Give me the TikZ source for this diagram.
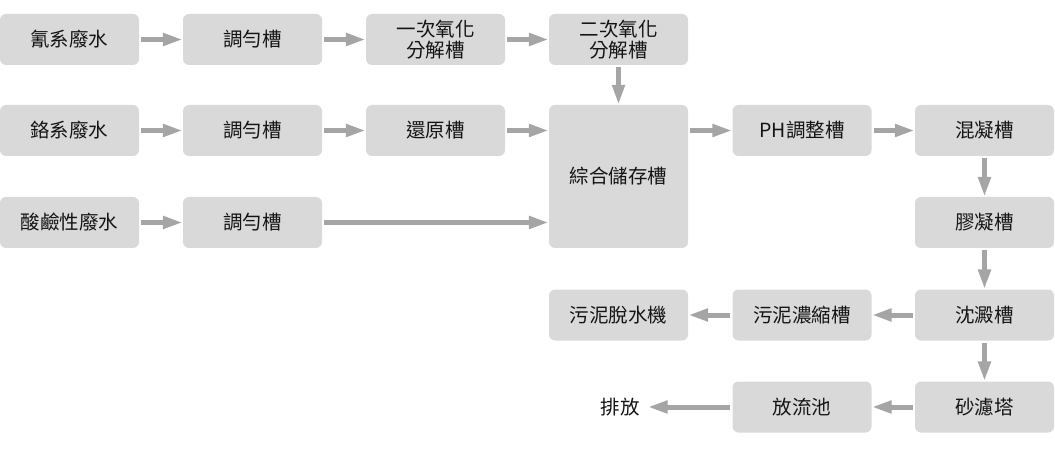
\documentclass[tikz,border=0pt]{standalone}
\usepackage{fontspec}
\setmainfont{Noto Sans CJK TC}
\usetikzlibrary{arrows.meta,calc}
\definecolor{boxfill}{RGB}{217,217,217}
\definecolor{arrowgray}{RGB}{165,165,165}
\definecolor{txt}{RGB}{20,20,20}
\begin{document}
\begin{tikzpicture}[x=1pt,y=-1pt,
  stepbox/.style={draw=none,fill=boxfill,rounded corners=6pt,minimum width=139pt,minimum height=51pt,
    inner sep=0pt,align=center,text=txt,font=\fontsize{19.5}{20.5}\selectfont},
  flow/.style={draw=arrowgray,line width=5pt,-{Triangle[length=20pt,width=12pt]},arrowgray,shorten <=2pt},
  lbl/.style={text=txt,font=\fontsize{19.5}{20.5}\selectfont,inner sep=0pt}]
\useasboundingbox (0,0) rectangle (1055,449);
% row 1
\node[stepbox] (cyan) at (69.5,39.5) {氰系廢水};
\node[stepbox] (eq1) at (252.5,39.5) {調勻槽};
\node[stepbox] (ox1) at (435.5,39.5) {一次氧化\\分解槽};
\node[stepbox] (ox2) at (618.5,39.5) {二次氧化\\分解槽};
% row 2
\node[stepbox] (chrom) at (69.5,130.5) {鉻系廢水};
\node[stepbox] (eq2) at (252.5,130.5) {調勻槽};
\node[stepbox] (red) at (435.5,130.5) {還原槽};
\node[stepbox,minimum height=143pt] (store) at (618.5,176.5) {綜合儲存槽};
\node[stepbox] (ph) at (802,130.5) {PH調整槽};
\node[stepbox] (mix) at (984.5,130.5) {混凝槽};
% row 3
\node[stepbox] (acid) at (69.5,222.5) {酸鹼性廢水};
\node[stepbox] (eq3) at (252.5,222.5) {調勻槽};
\node[stepbox] (floc) at (984.5,222.5) {膠凝槽};
% row 4
\node[stepbox] (dew) at (618.5,315) {污泥脫水機};
\node[stepbox] (thick) at (802,315) {污泥濃縮槽};
\node[stepbox] (settle) at (984.5,315) {沈澱槽};
% row 5
\node[lbl] (out) at (620,407) {排放};
\node[stepbox] (disc) at (802,407) {放流池};
\node[stepbox] (sand) at (984.5,407) {砂濾塔};
% connectors
\draw[flow] (cyan) -- (eq1);
\draw[flow] (eq1) -- (ox1);
\draw[flow] (ox1) -- (ox2);
\draw[flow] (ox2.south) -- (store.north);
\draw[flow] (chrom) -- (eq2);
\draw[flow] (eq2) -- (red);
\draw[flow] (red.east) -- (red.east -| store.west);
\draw[flow] (acid) -- (eq3);
\draw[flow] (eq3.east) -- (eq3.east -| store.west);
\draw[flow] (store.east |- ph.west) -- (ph.west);
\draw[flow] (ph) -- (mix);
\draw[flow] (mix) -- (floc);
\draw[flow] (floc) -- (settle);
\draw[flow] (settle) -- (thick);
\draw[flow] (thick) -- (dew);
\draw[flow] (settle) -- (sand);
\draw[flow] (sand) -- (disc);
\draw[flow,shorten >=8pt] (disc) -- (out);
\end{tikzpicture}
\end{document}
